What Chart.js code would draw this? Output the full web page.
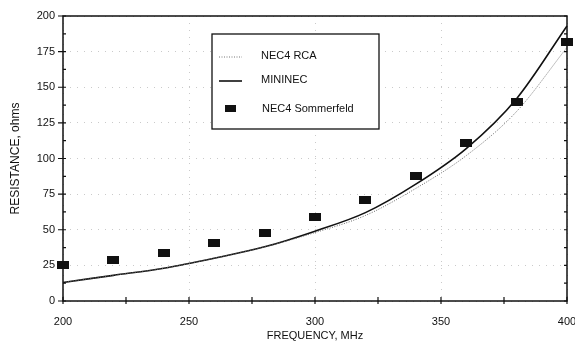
<!DOCTYPE html>
<html>
<head>
<meta charset="utf-8">
<script src="https://cdn.jsdelivr.net/npm/chart.js@4.4.0/dist/chart.umd.min.js"></script>
<style>
  html,body{margin:0;padding:0;background:#fff;}
  #wrap{width:575px;height:343px;}
</style>
</head>
<body>
<div id="wrap"><canvas id="c" width="575" height="343"></canvas></div>
<script>
// --- data ---
const freqs = [200, 220, 240, 260, 280, 300, 320, 340, 360, 380, 400];
const nec4Rca = [13, 18, 23, 30, 38, 48, 60, 79, 102, 133, 178];
const mininec = [13, 18, 23, 30, 38, 49, 62, 82, 107, 142, 193];
const sommerfeld = [25, 29, 34, 41, 48, 59, 71, 88, 111, 140, 182];
const xTicks = [200, 250, 300, 350, 400];
const yTicks = [0, 25, 50, 75, 100, 125, 150, 175, 200];

const FONT = "'Liberation Sans', Arial, sans-serif";

// wide black block used for the Sommerfeld markers
const block = document.createElement('canvas');
block.width = 12; block.height = 8;
const bctx = block.getContext('2d');
bctx.fillStyle = '#111';
bctx.fillRect(0, 0, 12, 8);

const pts = arr => arr.map((v, i) => ({x: freqs[i], y: v}));

// frame, crossing ticks and the boxed legend
const decor = {
  id: 'decor',
  afterDraw(chart) {
    const c = chart.ctx, a = chart.chartArea;
    const xs = chart.scales.x, ys = chart.scales.y;
    c.save();
    c.strokeStyle = '#111';
    c.lineWidth = 1.5;
    c.strokeRect(a.left, a.top, a.right - a.left, a.bottom - a.top);
    c.lineWidth = 1.2;
    c.beginPath();
    for (let f = 200; f <= 400; f += 25) {
      const px = xs.getPixelForValue(f);
      c.moveTo(px, a.bottom - 4); c.lineTo(px, a.bottom + 3);
    }
    for (let r = 0; r <= 200; r += 12.5) {
      const py = ys.getPixelForValue(r);
      const big = r % 25 === 0;
      c.moveTo(a.left - (big ? 5 : 0), py); c.lineTo(a.left + 3, py);
      c.moveTo(a.right - 3, py); c.lineTo(a.right, py);
    }
    c.stroke();

    // legend box
    const lx = 212, ly = 34, lw = 167, lh = 95;
    c.fillStyle = '#fff';
    c.fillRect(lx, ly, lw, lh);
    c.lineWidth = 1.3;
    c.strokeStyle = '#111';
    c.strokeRect(lx, ly, lw, lh);
    c.font = '11px ' + FONT;
    c.fillStyle = '#111';
    c.textBaseline = 'middle';
    c.textAlign = 'left';
    // dotted sample
    c.strokeStyle = '#777';
    c.lineWidth = 1;
    c.setLineDash([1, 1.5]);
    c.beginPath(); c.moveTo(219, 57); c.lineTo(242, 57); c.stroke();
    c.setLineDash([]);
    c.fillText('NEC4 RCA', 261, 56);
    c.strokeStyle = '#111';
    c.lineWidth = 1.6;
    c.beginPath(); c.moveTo(219, 81); c.lineTo(242, 81); c.stroke();
    c.fillText('MININEC', 261, 80);
    c.fillStyle = '#111';
    c.fillRect(225, 105, 11, 7);
    c.fillText('NEC4 Sommerfeld', 262, 109);
    c.restore();
  }
};

new Chart(document.getElementById('c'), {
  type: 'scatter',
  data: {
    datasets: [
      {
        label: 'NEC4 RCA',
        data: pts(nec4Rca),
        showLine: true,
        borderColor: '#666',
        borderWidth: 1,
        borderDash: [1, 1.5],
        pointRadius: 0,
        cubicInterpolationMode: 'monotone'
      },
      {
        label: 'MININEC',
        data: pts(mininec),
        showLine: true,
        borderColor: '#111',
        borderWidth: 1.6,
        pointRadius: 0,
        cubicInterpolationMode: 'monotone'
      },
      {
        label: 'NEC4 Sommerfeld',
        data: pts(sommerfeld),
        showLine: false,
        pointStyle: block,
        pointRadius: 6
      }
    ]
  },
  options: {
    responsive: false,
    animation: false,
    clip: false,
    layout: {padding: {left: 8, right: 8, top: 16, bottom: 0}},
    plugins: {legend: {display: false}, tooltip: {enabled: false}},
    scales: {
      x: {
        type: 'linear',
        min: 200, max: 400,
        afterBuildTicks: s => { s.ticks = xTicks.map(v => ({value: v})); },
        afterFit: s => { s.height = 42; s.paddingRight = 0; s.paddingLeft = 0; },
        grid: {color: '#cacaca', lineWidth: 1, drawTicks: false},
        border: {display: false, dash: [1, 6]},
        ticks: {color: '#111', font: {family: FONT, size: 11}, padding: 14, maxRotation: 0},
        title: {display: true, text: 'FREQUENCY, MHz', color: '#111', font: {family: FONT, size: 11}, padding: {top: -2, bottom: 0}}
      },
      y: {
        min: 0, max: 200,
        afterBuildTicks: s => { s.ticks = yTicks.map(v => ({value: v})); },
        afterFit: s => { s.width = 55; s.paddingTop = 0; s.paddingBottom = 0; },
        grid: {color: '#cacaca', lineWidth: 1, drawTicks: false},
        border: {display: false, dash: [1, 6]},
        ticks: {color: '#111', font: {family: FONT, size: 11}, padding: 8},
        title: {display: true, text: 'RESISTANCE, ohms', color: '#111', font: {family: FONT, size: 12}, padding: {top: 0, bottom: 6}}
      }
    }
  },
  plugins: [decor]
});
</script>
</body>
</html>
